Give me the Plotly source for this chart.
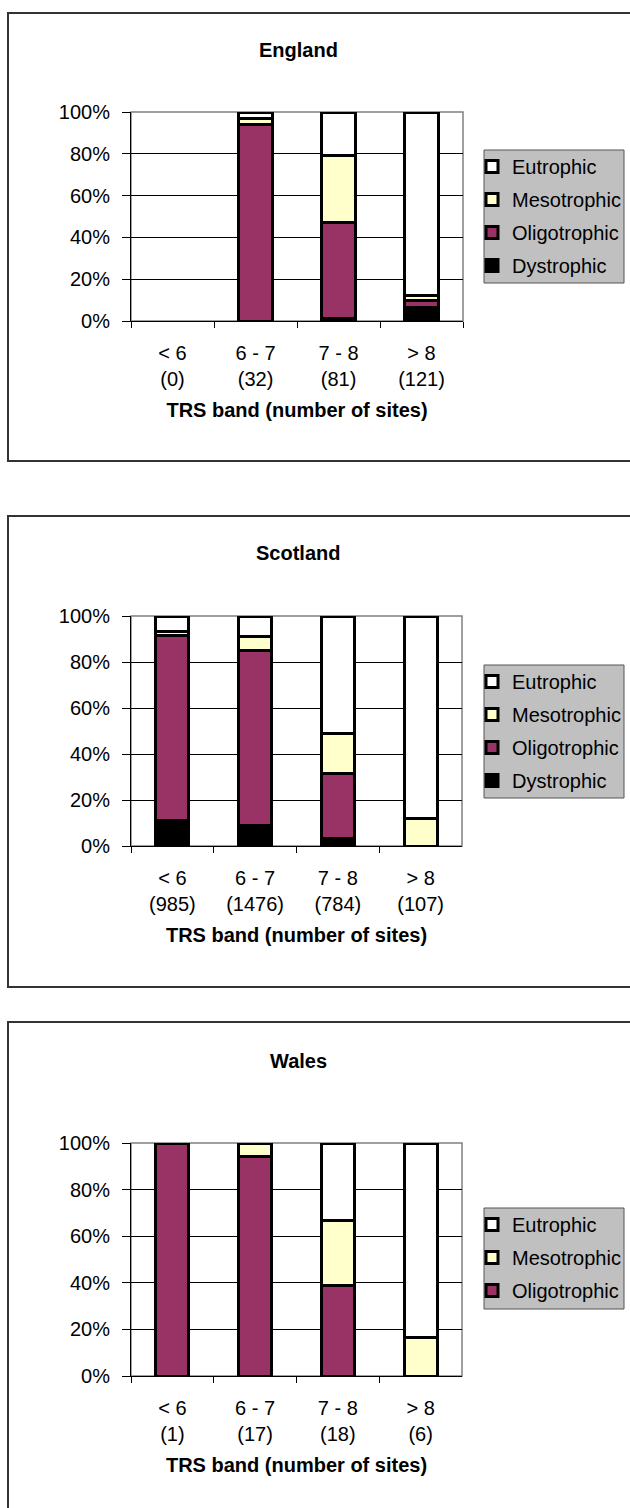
import plotly.graph_objects as go

# ---------------- data ----------------
bands = ["&lt; 6", "6 - 7", "7 - 8", "&gt; 8"]
series_names = ["Dystrophic", "Oligotrophic", "Mesotrophic", "Eutrophic"]
series_colors = ["#000000", "#993366", "#FFFFCC", "#FFFFFF"]
legend_ranks = [4, 3, 2, 1]

england_sites = [0, 32, 81, 121]
england_dys = [None, None, 1.2, 6.6]
england_oligo = [None, 93.8, 45.7, 3.3]
england_meso = [None, 3.1, 32.1, 2.5]
england_eutro = [None, 3.1, 21.0, 87.6]

scotland_sites = [985, 1476, 784, 107]
scotland_dys = [11.3, 8.8, 3.3, None]
scotland_oligo = [80.4, 76.0, 28.3, None]
scotland_meso = [1.5, 6.2, 17.4, 12.1]
scotland_eutro = [6.8, 9.0, 51.0, 87.9]

wales_sites = [1, 17, 18, 6]
wales_oligo = [100.0, 94.1, 38.9, None]
wales_meso = [None, 5.9, 27.8, 16.7]
wales_eutro = [None, None, 33.3, 83.3]

y_ticks = [0, 20, 40, 60, 80, 100]
y_ticktext = [f"{v}%" for v in y_ticks]

W, H = 630, 1508
FONT = "Liberation Sans, Arial, sans-serif"


def fx(px):
    return px / W


def fy(py):
    return 1 - py / H


panels = [
    dict(name="England", sites=england_sites,
         series=[england_dys, england_oligo, england_meso, england_eutro],
         plot=(131, 463, 112, 321), box=(8, 13, 640, 461), title_y=50,
         legend=(484, 624, 150, 283)),
    dict(name="Scotland", sites=scotland_sites,
         series=[scotland_dys, scotland_oligo, scotland_meso, scotland_eutro],
         plot=(131, 462, 616, 846), box=(8, 516, 640, 987), title_y=553,
         legend=(484, 624, 665, 798)),
    dict(name="Wales", sites=wales_sites,
         series=[None, wales_oligo, wales_meso, wales_eutro],
         plot=(131, 462, 1143, 1376), box=(8, 1022, 640, 1530), title_y=1061,
         legend=(484, 624, 1208, 1309)),
]

fig = go.Figure()
shapes = []
annotations = []
layout = {}

for i, p in enumerate(panels):
    k = "" if i == 0 else str(i + 1)
    xa, ya = "x" + k, "y" + k
    leg = "legend" + k
    cats = [f"{b}<br>({n})" for b, n in zip(bands, p["sites"])]
    for s_name, s_col, rank, vals in zip(series_names, series_colors,
                                         legend_ranks, p["series"]):
        if vals is None:
            continue
        fig.add_trace(go.Bar(
            x=cats, y=vals, name=s_name, xaxis=xa, yaxis=ya,
            marker=dict(color=s_col, line=dict(color="black", width=3)),
            legend=leg, legendgroup=p["name"] + s_name, legendrank=rank,
            hovertemplate="%{y:.1f}%<extra>" + s_name + "</extra>",
        ))
    x0, x1, y0, y1 = p["plot"]
    layout["xaxis" + k] = dict(
        domain=[fx(x0), fx(x1)], anchor=ya, type="category",
        categoryorder="array", categoryarray=cats,
        range=[-0.5, 3.5], tickson="boundaries", ticks="outside",
        ticklen=6, tickwidth=1, tickcolor="black",
        showline=True, linecolor="black", linewidth=1, showgrid=False,
        tickfont=dict(family=FONT, size=20, color="black"),
        ticklabelstandoff=14, automargin=False,
        title=dict(text="<b>TRS band (number of sites)</b>",
                   font=dict(family=FONT, size=20, color="black"), standoff=13),
        fixedrange=True,
    )
    layout["yaxis" + k] = dict(
        domain=[fy(y1), fy(y0)], anchor=xa, range=[0, 100],
        tickmode="array", tickvals=y_ticks, ticktext=y_ticktext,
        ticks="outside", ticklen=8,
        tickwidth=1, tickcolor="black", showline=True, linecolor="black",
        linewidth=1, showgrid=True, gridcolor="black", gridwidth=1,
        zeroline=False, tickfont=dict(family=FONT, size=20, color="black"),
        ticklabelstandoff=8, automargin=False, fixedrange=True,
    )
    # plot-area border (grey)
    shapes.append(dict(type="rect", xref=xa + " domain", yref=ya + " domain",
                       x0=0, x1=1, y0=0, y1=1,
                       line=dict(color="#808080", width=1.5), layer="below"))
    # chart-area box
    bx0, by0, bx1, by1 = p["box"]
    shapes.append(dict(type="rect", xref="paper", yref="paper",
                       x0=fx(bx0), x1=fx(bx1), y0=fy(by1), y1=fy(by0),
                       line=dict(color="#333333", width=2), layer="below"))
    # legend box
    lx0, lx1, ly0, ly1 = p["legend"]
    shapes.append(dict(type="rect", xref="paper", yref="paper",
                       x0=fx(lx0), x1=fx(lx1), y0=fy(ly1), y1=fy(ly0),
                       fillcolor="#C0C0C0", line=dict(color="#555555", width=1),
                       layer="below"))
    layout[leg] = dict(
        x=fx(lx0 - 12), y=fy(ly0 - 3), xanchor="left", yanchor="top",
        bgcolor="rgba(0,0,0,0)", borderwidth=0,
        font=dict(family=FONT, size=20, color="black"),
        traceorder="grouped", tracegroupgap=4,
    )
    annotations.append(dict(text="<b>" + p["name"] + "</b>", xref="paper",
                            yref="paper", x=fx(298), y=fy(p["title_y"]),
                            xanchor="center", yanchor="middle", showarrow=False,
                            font=dict(family=FONT, size=20, color="black")))

fig.update_layout(
    template="none",
    width=W, height=H, margin=dict(l=0, r=0, t=0, b=0, autoexpand=False),
    paper_bgcolor="white", plot_bgcolor="white",
    barmode="stack", bargap=0.6,
    shapes=shapes, annotations=annotations,
    font=dict(family=FONT, size=20, color="black"),
    **layout,
)

fig.write_html("out.html", config={"displayModeBar": False},
               post_script="document.body.style.margin='0px';")
